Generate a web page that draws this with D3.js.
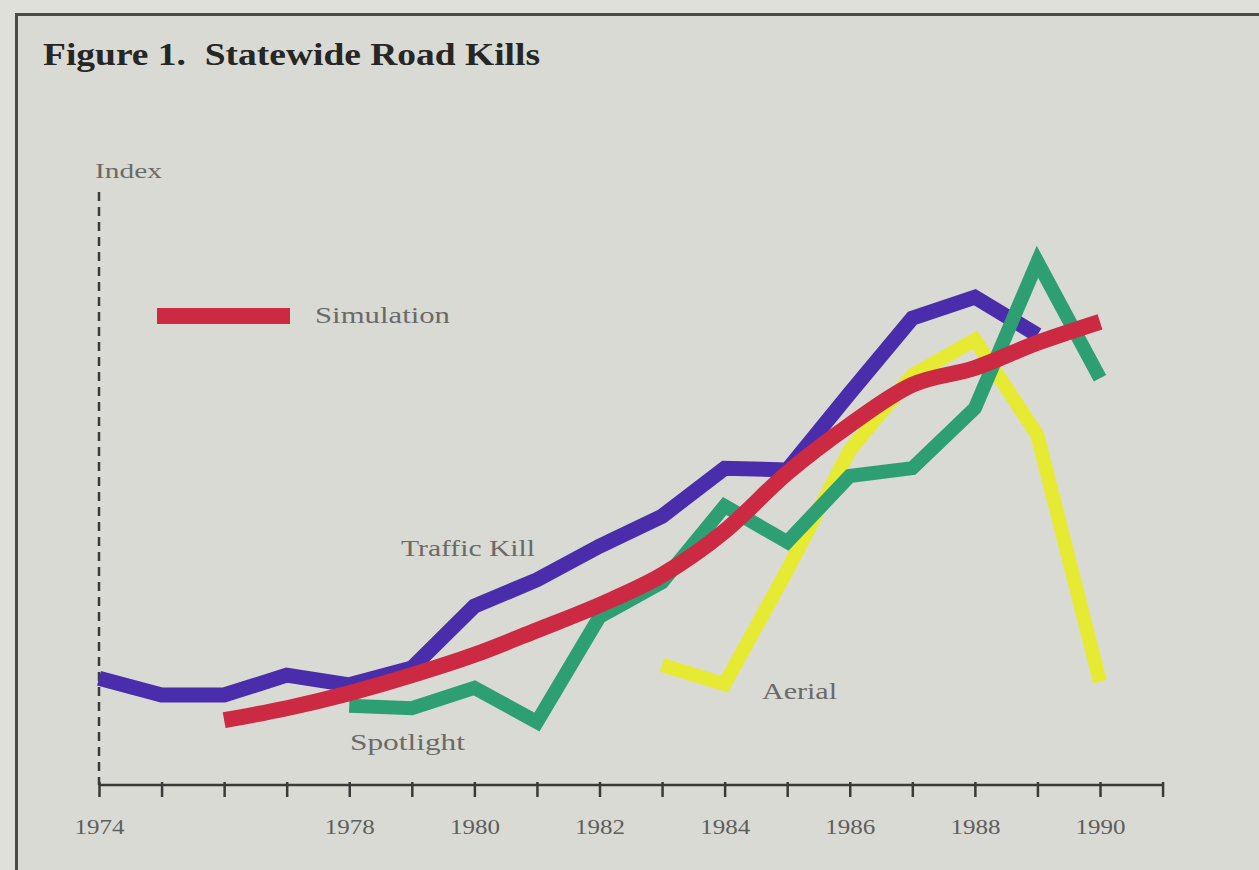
<!DOCTYPE html>
<html>
<head>
<meta charset="utf-8">
<script src="https://cdn.jsdelivr.net/npm/d3@7"></script>
<style>
  html, body { margin: 0; padding: 0; background: #e0e0db; }
  svg { display: block; }
</style>
</head>
<body>
<div id="chartWrapper"></div>
<script>
// years on the x axis
var years = d3.range(1974, 1992);
var tickLabels = [1974, 1978, 1980, 1982, 1984, 1986, 1988, 1990];

// index values
var trafficYears = d3.range(1974, 1990);
var trafficKill = [17.8, 15.0, 15.0, 18.3, 16.7, 19.5, 29.8, 34.2, 39.8, 44.8, 52.8, 52.5, 65.3, 77.8, 81.3, 75.0];

var spotlightYears = d3.range(1978, 1991);
var spotlight = [13.2, 12.8, 16.2, 10.5, 28.0, 33.8, 46.5, 40.5, 51.5, 52.8, 62.8, 87.2, 67.8];

var simulationYears = d3.range(1976, 1991);
var simulation = [10.8, 12.8, 15.3, 18.3, 21.7, 25.8, 30.0, 35.0, 42.3, 52.0, 60.0, 66.7, 69.5, 73.7, 77.2];

var aerialYears = d3.range(1983, 1991);
var aerial = [20.0, 16.8, 35.8, 55.8, 68.3, 74.2, 58.3, 17.2];

var width = 1259;
var height = 870;
var margin = { left: 99, top: 185, bottom: 85 };
var axisY = height - margin.bottom;
var serif = "'Liberation Serif', serif";

var svg = d3.select("#chartWrapper").append("svg")
    .attr("width", width)
    .attr("height", height);

// paper + frame
svg.append("rect")
    .attr("x", 15).attr("y", 13)
    .attr("width", width - 15).attr("height", height - 13)
    .attr("fill", "#dadad4");
svg.append("path")
    .attr("d", "M16.5," + height + "V14.5H" + width)
    .attr("fill", "none")
    .attr("stroke", "#4a4a48")
    .attr("stroke-width", 3);

svg.append("text")
    .attr("x", 43)
    .attr("y", 65)
    .style("font-family", serif)
    .style("font-size", "31px")
    .style("font-weight", "bold")
    .style("white-space", "pre")
    .attr("fill", "#262624")
    .attr("textLength", 497)
    .attr("lengthAdjust", "spacingAndGlyphs")
    .text("Figure 1.  Statewide Road Kills");

var x = d3.scaleLinear()
    .domain([1974, 1990])
    .range([margin.left, 1100]);

var y = d3.scaleLinear()
    .domain([0, 100])
    .range([axisY, axisY - 600]);

// x axis
var xAxis = d3.axisBottom(x)
    .tickValues(years)
    .tickSize(12)
    .tickFormat(function(d) {
        return tickLabels.indexOf(d) >= 0 ? d : "";
    });

var gx = svg.append("g")
    .attr("transform", "translate(0," + axisY + ")")
    .call(xAxis);
gx.select(".domain")
    .attr("d", "M" + x(1974) + ",0H" + x(1991))
    .attr("stroke", "#3a3a38")
    .attr("stroke-width", 2.5);
gx.selectAll(".tick line")
    .attr("y1", -3)
    .attr("stroke", "#3a3a38")
    .attr("stroke-width", 2.5);
gx.selectAll(".tick text")
    .attr("y", 34)
    .style("font-family", serif)
    .style("font-size", "21px")
    .attr("fill", "#5e5e5c")
    .filter(function(d) { return tickLabels.indexOf(d) >= 0; })
    .attr("textLength", 50)
    .attr("lengthAdjust", "spacingAndGlyphs");

// dashed index axis
svg.append("line")
    .attr("x1", x(1974)).attr("x2", x(1974))
    .attr("y1", 192).attr("y2", axisY)
    .attr("stroke", "#3a3a38")
    .attr("stroke-width", 2.5)
    .attr("stroke-dasharray", "9,6");

function addLabel(txt, lx, ly, len, size) {
    svg.append("text")
        .attr("x", lx).attr("y", ly)
        .style("font-family", serif)
        .style("font-size", (size || 24) + "px")
        .attr("fill", "#6a6a68")
        .attr("textLength", len)
        .attr("lengthAdjust", "spacingAndGlyphs")
        .text(txt);
}
addLabel("Index", 95, 178, 67, 21);

function drawSeries(xs, vals, color, w, curve) {
    var line = d3.line()
        .x(function(d, i) { return x(xs[i]); })
        .y(function(d) { return y(d); })
        .curve(curve || d3.curveLinear);
    svg.append("path")
        .datum(vals)
        .attr("d", line)
        .attr("fill", "none")
        .attr("stroke", color)
        .attr("stroke-width", w)
        .attr("stroke-linejoin", "miter")
        .attr("stroke-linecap", "butt");
}

drawSeries(aerialYears, aerial, "#e6ea32", 14);
drawSeries(trafficYears, trafficKill, "#4a2dab", 15);
drawSeries(spotlightYears, spotlight, "#2e9f72", 14);
drawSeries(simulationYears, simulation, "#cc2a42", 16, d3.curveMonotoneX);

// legend
svg.append("line")
    .attr("x1", 157).attr("x2", 290)
    .attr("y1", 316).attr("y2", 316)
    .attr("stroke", "#cc2a42")
    .attr("stroke-width", 16);

addLabel("Simulation", 315, 323, 135);
addLabel("Traffic Kill", 401, 556, 134);
addLabel("Spotlight", 350, 750, 115);
addLabel("Aerial", 762, 699, 75);
</script>
</body>
</html>
